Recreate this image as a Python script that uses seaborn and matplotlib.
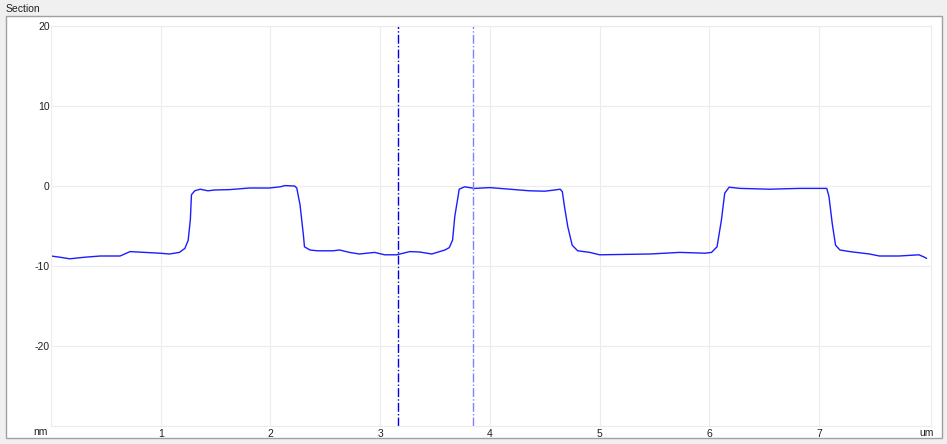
import pandas as pd
import seaborn as sns
from matplotlib import pyplot as plt
from matplotlib.patches import Rectangle

# section profile (um, nm)
position_um = [0.00, 0.08, 0.17, 0.31, 0.45, 0.63, 0.72, 0.99, 1.08, 1.17,
               1.22, 1.25, 1.27, 1.28, 1.31, 1.36, 1.43, 1.49, 1.63, 1.81,
               1.99, 2.09, 2.13, 2.22, 2.24, 2.27, 2.30, 2.31, 2.36, 2.43,
               2.57, 2.63, 2.72, 2.81, 2.95, 3.04, 3.15, 3.27, 3.36, 3.47,
               3.59, 3.63, 3.66, 3.68, 3.71, 3.72, 3.77, 3.86, 4.00, 4.18,
               4.36, 4.50, 4.59, 4.64, 4.66, 4.68, 4.71, 4.75, 4.80, 4.91,
               5.00, 5.46, 5.73, 5.96, 6.02, 6.07, 6.11, 6.14, 6.18, 6.28,
               6.55, 6.82, 7.07, 7.09, 7.12, 7.15, 7.19, 7.28, 7.46, 7.55,
               7.73, 7.91, 7.96, 7.98]
height_nm = [-8.75, -8.9, -9.1, -8.9, -8.75, -8.75, -8.2, -8.4, -8.5, -8.3,
             -7.8, -6.8, -4.2, -1.1, -0.6, -0.4, -0.6, -0.5, -0.45, -0.25,
             -0.25, -0.1, 0.05, 0.0, -0.25, -2.4, -6.1, -7.6, -8.0, -8.1,
             -8.1, -8.0, -8.3, -8.5, -8.3, -8.6, -8.6, -8.2, -8.25, -8.5,
             -8.0, -7.7, -6.75, -3.8, -1.3, -0.4, -0.1, -0.3, -0.2, -0.4,
             -0.6, -0.65, -0.5, -0.4, -0.7, -2.6, -5.1, -7.4, -8.1, -8.3,
             -8.6, -8.5, -8.3, -8.4, -8.3, -7.6, -4.25, -0.9, -0.15, -0.3,
             -0.4, -0.3, -0.3, -1.3, -4.7, -7.4, -8.0, -8.2, -8.5, -8.75,
             -8.75, -8.6, -8.9, -9.05]

cursor_left = 3.16
cursor_right = 3.85

x_ticks = [1, 2, 3, 4, 5, 6, 7]
y_ticks = [-20, -10, 0, 10, 20]

sns.set_style("white")
plt.rcParams['font.family'] = ['Liberation Sans', 'DejaVu Sans']
plt.rcParams['axes.unicode_minus'] = False

W, H = 947, 444
fig = plt.figure(figsize=(W / 100, H / 100), dpi=100, facecolor='#f0f0f0')

# white panel with grey frame, kept behind the axes
fig.patches.append(Rectangle((6 / W, 1 - 438 / H), 936 / W, 422 / H,
                             transform=fig.transFigure, facecolor='white',
                             edgecolor='#a0a0a0', linewidth=1, zorder=-10))
fig.text(6 / W, 1 - 9 / H, 'Section', fontsize=7.5, color='#202020',
         ha='left', va='center')

ax = fig.add_axes([51 / W, 1 - 426 / H, 880 / W, 400 / H])
ax.set_zorder(5)
ax.set_facecolor('white')

df = pd.DataFrame({'um': position_um, 'nm': height_nm})
sns.lineplot(ax=ax, data=df, x='um', y='nm', color='#1c1cff', linewidth=1)

ax.axvline(cursor_left, color='#0000e8', linewidth=1, linestyle='-.')
ax.axvline(cursor_right, color='#8080ff', linewidth=1, linestyle='-.')

ax.set_xlim(0, 8.02)
ax.set_ylim(-30, 20)
ax.set_xticks(x_ticks)
ax.set_yticks(y_ticks)
ax.grid(True, color='#ececec', linewidth=0.8)
ax.set_axisbelow(True)
for s in ax.spines.values():
    s.set_color('#ececec')
    s.set_linewidth(0.8)
ax.tick_params(axis='both', length=0, labelsize=7.5, labelcolor='#202020')
ax.tick_params(axis='y', pad=1)
ax.tick_params(axis='x', pad=2)
ax.set_xlabel('')
ax.set_ylabel('')

fig.text(48 / W, 1 - 432 / H, 'nm', fontsize=7.5, color='#202020',
         ha='right', va='center')
fig.text(934 / W, 1 - 433 / H, 'um', fontsize=7.5, color='#202020',
         ha='right', va='center')

fig.savefig('out.png', dpi=100, facecolor=fig.get_facecolor())
